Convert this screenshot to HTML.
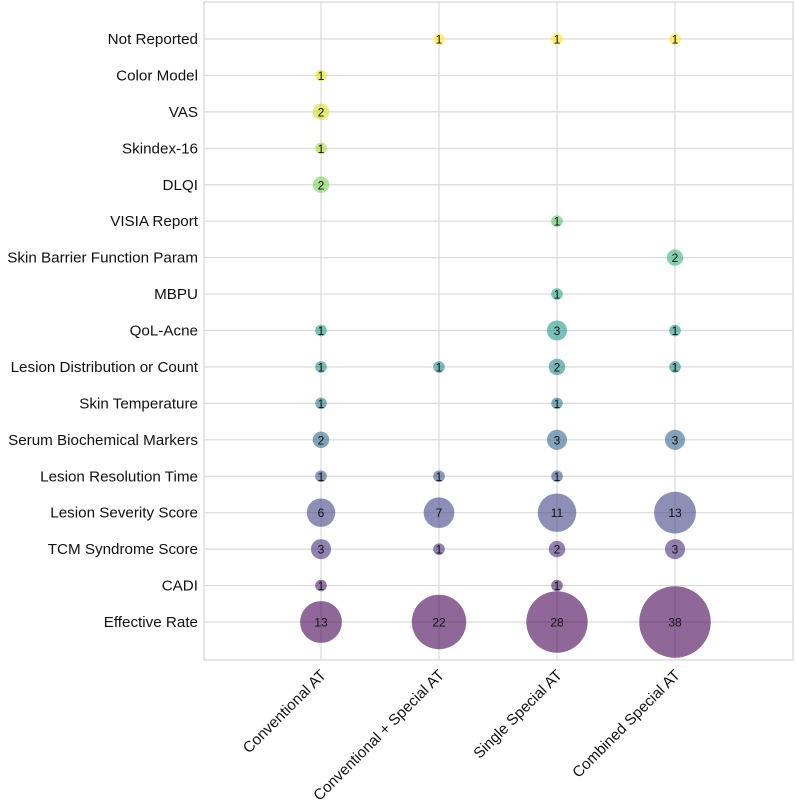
<!DOCTYPE html>
<html><head><meta charset="utf-8"><style>
body{margin:0;background:#fff;}
svg{display:block;font-family:"Liberation Sans",Arial,sans-serif;}
</style></head><body>
<svg id="chart" width="796" height="806"></svg>
<script>
const categories = ["Conventional AT","Conventional + Special AT","Single Special AT","Combined Special AT"];
const outcomes = ["Effective Rate","CADI","TCM Syndrome Score","Lesion Severity Score","Lesion Resolution Time","Serum Biochemical Markers","Skin Temperature","Lesion Distribution or Count","QoL-Acne","MBPU","Skin Barrier Function Param","VISIA Report","DLQI","Skindex-16","VAS","Color Model","Not Reported"];
const colConventional = [13,1,3,6,1,2,1,1,1,0,0,0,2,1,2,1,0];
const colConvSpecial  = [22,0,1,7,1,0,0,1,0,0,0,0,0,0,0,0,1];
const colSingle       = [28,1,2,11,1,3,1,2,3,1,0,1,0,0,0,0,1];
const colCombined     = [38,0,3,13,0,3,0,1,1,0,2,0,0,0,0,0,1];
const series = [colConventional,colConvSpecial,colSingle,colCombined];

const NS="http://www.w3.org/2000/svg";
const svg=document.getElementById('chart');
const L=204,R=793,T=2,B=660;
const xFn=i=>321+i*118;
const yFn=j=>622-j*((622-39)/16);
const viridis=["#440154","#481a6c","#472f7d","#414487","#39568c","#31688e","#2a788e","#23888e","#1f988b","#22a884","#35b779","#54c568","#7ad151","#a5db36","#d2e21b","#e4e419","#fde725"];
function mk(t,a){const e=document.createElementNS(NS,t);for(const k in a)e.setAttribute(k,a[k]);svg.appendChild(e);return e;}
const frame=mk('rect',{x:L,y:T,width:R-L,height:B-T,fill:'none',stroke:'#d4d4d4','stroke-width':1.2});


outcomes.forEach((o,j)=>{
  const g=mk('line',{x1:L,x2:R,y1:yFn(j),y2:yFn(j),stroke:'#dadada','stroke-width':1.2});
  
  
  const t=mk('text',{x:198,y:yFn(j)+5,'text-anchor':'end','font-size':15.2,fill:'#111'});
  t.textContent=o;
  
  
});
categories.forEach((c,i)=>{
  const g=mk('line',{x1:xFn(i),x2:xFn(i),y1:T,y2:B,stroke:'#dadada','stroke-width':1.2});
  
  
  const x=xFn(i)+6,y=676;
  const t=mk('text',{x:x,y:y,'text-anchor':'end','font-size':15.2,fill:'#111',transform:`rotate(-45 ${x} ${y})`});
  t.textContent=c;
  
  
});
series.forEach((vals,i)=>{
  vals.forEach((v,j)=>{
    if(!v)return;
    const r=5.8*Math.sqrt(v);
    const e=mk('circle',{cx:xFn(i),cy:yFn(j),r:r,fill:viridis[j],'fill-opacity':0.6});
    
    
    const t=mk('text',{x:xFn(i),y:yFn(j)+4.5,'text-anchor':'middle','font-size':12,fill:'#111'});
    t.textContent=v;
    
    
  });
});
</script>
</body></html>
